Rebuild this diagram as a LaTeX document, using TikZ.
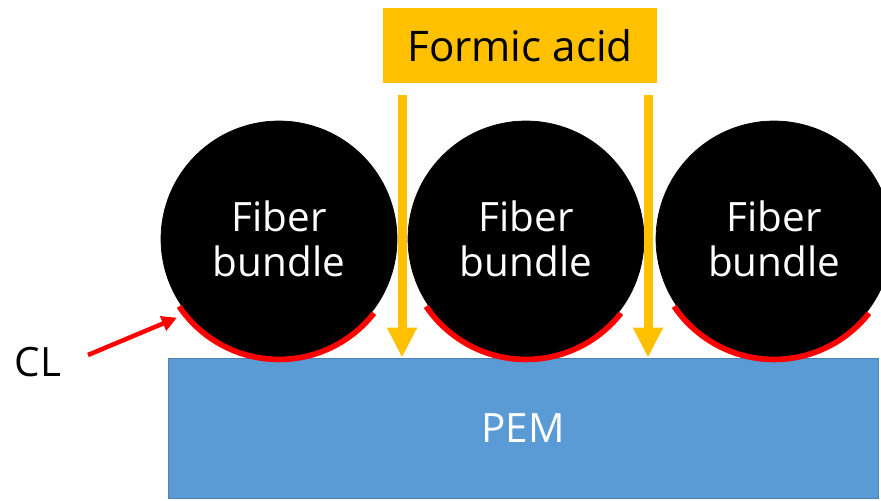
\documentclass[tikz,border=0pt]{standalone}
\usepackage{fontspec}
\setmainfont{Open Sans}
\usetikzlibrary{positioning,arrows.meta}
\definecolor{acid}{HTML}{FFC000}
\definecolor{pemblue}{HTML}{5B9BD5}
\definecolor{clred}{HTML}{FF0000}

\begin{document}
\begin{tikzpicture}[x=0.02cm, y=0.02cm,
  bundle/.style={circle, fill=black, draw=black, minimum size=4.72cm, inner sep=0pt, text=white, align=center, font=\fontsize{23}{26}\selectfont},
  acidbox/.style={rectangle, fill=acid, minimum width=5.48cm, minimum height=1.5cm, inner sep=0pt, font=\fontsize{24}{26}\selectfont},
  layer/.style={rectangle, fill=pemblue, draw=pemblue!85!black, line width=0.4pt, minimum width=14.2cm, minimum height=2.8cm, text=white, font=\fontsize{23}{26}\selectfont},
  flow/.style={-{Triangle[length=0.6cm, width=0.56cm]}, line width=0.18cm, draw=acid, fill=acid},
  contact/.style={draw=clred, line width=3.2pt},
  pointer/.style={-{Triangle[length=0.3cm, width=0.3cm]}, line width=0.09cm, draw=clred, fill=clred},
]
\useasboundingbox (0,0) rectangle (881,500);

% membrane
\node[layer] (pem) at (523,72) {PEM};

% fiber bundles with catalyst layer
\foreach \i/\x in {1/279, 2/526, 3/774}{
  \node[bundle] (b\i) at (\x,261) {Fiber\\bundle};
  \draw[contact] (b\i.center) ++(214:2.41cm) arc[start angle=214, end angle=322, radius=2.41cm];
}

% formic acid supply
\node[acidbox] (fa) at (520,454.5) {Formic acid};
\coordinate (s1) at (402,405);
\coordinate (s2) at (648,405);
\draw[flow] (s1) -- (s1 |- pem.north);
\draw[flow] (s2) -- (s2 |- pem.north);

% CL label
\node[font=\fontsize{23}{26}\selectfont] (cl) at (38,138) {CL};
\coordinate (cltail) at (88,145);
\draw[pointer, shorten >=0.22cm] (cltail) -- (b1.219);

\end{tikzpicture}
\end{document}
